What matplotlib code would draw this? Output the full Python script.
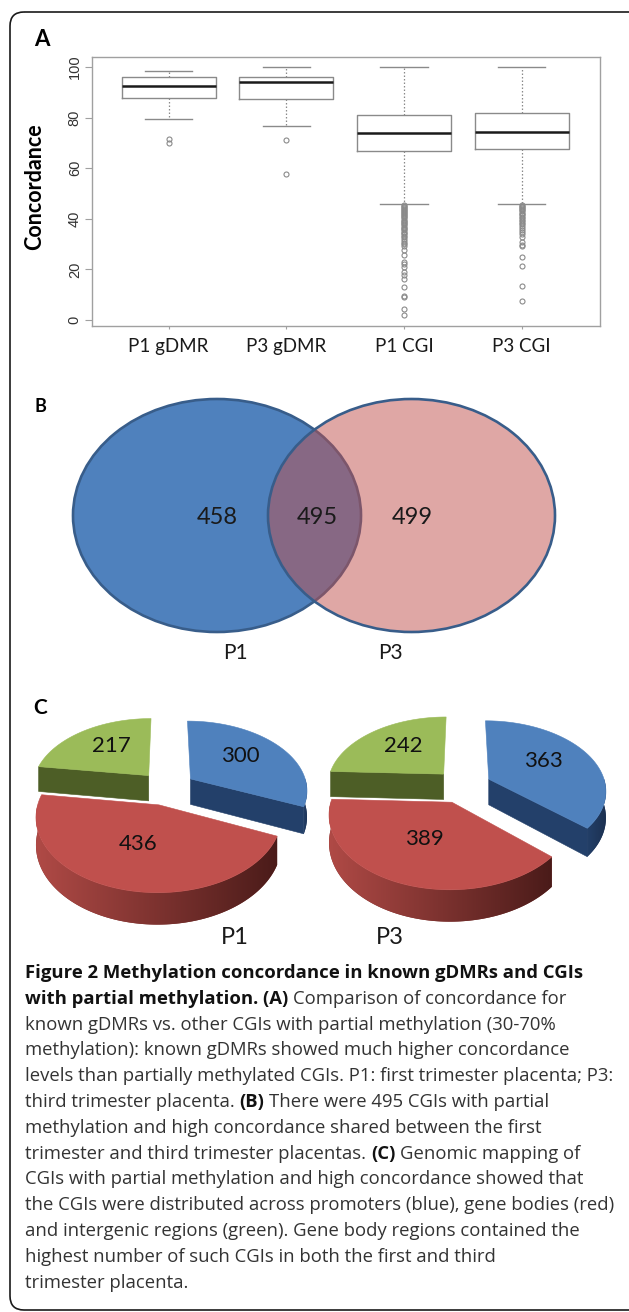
import numpy as np
import matplotlib
matplotlib.use('Agg')
import matplotlib.pyplot as plt
from matplotlib.patches import Ellipse, Polygon, FancyBboxPatch
from matplotlib.colors import to_rgb

# ---------------- data ----------------
# A: concordance boxplots
box_labels = ['P1 gDMR', 'P3 gDMR', 'P1 CGI', 'P3 CGI']
box_whislo = [79.3, 76.5, 45.7, 45.9]
box_q1 = [87.9, 87.2, 66.7, 67.7]
box_med = [92.7, 94.1, 73.9, 74.3]
box_q3 = [96.0, 96.0, 80.9, 82.0]
box_whishi = [98.5, 100.0, 100.0, 100.0]
fliers_p1_gdmr = [71.5, 69.8]
fliers_p3_gdmr = [71.3, 57.8]
fliers_p1_cgi = [45.5, 45.2, 44.8, 44.4, 44.0, 43.6, 43.2, 42.8, 42.4, 42.0, 41.5, 41.1,
                 40.6, 40.2, 39.7, 39.3, 38.8, 38.3, 37.9, 37.4, 36.9, 36.4, 35.9, 35.4,
                 34.9, 34.3, 33.8, 33.2, 32.6, 32.0, 31.3, 30.6, 29.9, 29.1, 27.7, 25.7,
                 23.0, 22.1, 21.0, 19.1, 17.8, 16.2, 12.9, 9.6, 9.2, 4.2, 2.0]
fliers_p3_cgi = [45.6, 45.2, 44.8, 44.3, 43.9, 43.4, 42.9, 42.4, 41.9, 41.4, 40.8, 40.3,
                 39.7, 39.1, 38.5, 37.9, 37.2, 36.5, 35.7, 34.9, 33.8, 32.9, 30.9, 29.6,
                 29.1, 25.0, 21.5, 13.6, 7.6]
box_fliers = [fliers_p1_gdmr, fliers_p3_gdmr, fliers_p1_cgi, fliers_p3_cgi]

# B: venn counts
venn_sets = ['P1', 'P3']
venn_counts = [458, 495, 499]   # P1 only, shared, P3 only

# C: genomic mapping (promoter, gene body, intergenic)
pie_groups = ['P1', 'P3']
pie_p1 = [300, 436, 217]
pie_p3 = [363, 389, 242]

caption = [
    [("Figure 2 Methylation concordance in known gDMRs and CGIs", True)],
    [("with partial methylation. (A)", True), ("Comparison of concordance for", False)],
    [("known gDMRs vs. other CGIs with partial methylation (30-70%", False)],
    [("methylation): known gDMRs showed much higher concordance", False)],
    [("levels than partially methylated CGIs. P1: first trimester placenta; P3:", False)],
    [("third trimester placenta.", False), ("(B)", True), ("There were 495 CGIs with partial", False)],
    [("methylation and high concordance shared between the first", False)],
    [("trimester and third trimester placentas.", False), ("(C)", True), ("Genomic mapping of", False)],
    [("CGIs with partial methylation and high concordance showed that", False)],
    [("the CGIs were distributed across promoters (blue), gene bodies (red)", False)],
    [("and intergenic regions (green). Gene body regions contained the", False)],
    [("highest number of such CGIs in both the first and third", False)],
    [("trimester placenta.", False)],
]

LAB_FONT = ['Lato', 'DejaVu Sans']
CAP_FONT = ['Open Sans', 'DejaVu Sans']

W, H = 629, 1312
fig = plt.figure(figsize=(W / 100, H / 100), dpi=100)
ov = fig.add_axes([0, 0, 1, 1])
ov.set_xlim(0, W)
ov.set_ylim(H, 0)
ov.axis('off')

# outer frame
ov.add_patch(FancyBboxPatch((10, 12), 660, 1298, boxstyle='round,pad=0,rounding_size=14',
                            fc='none', ec='#1a1a1a', lw=1.2))

# ---------------- A: boxplot ----------------
ax = fig.add_axes([91.5 / W, 1 - 326 / H, 508.5 / W, 269.3 / H])
stats = []
for i in range(4):
    stats.append(dict(med=box_med[i], q1=box_q1[i], q3=box_q3[i], whislo=box_whislo[i],
                      whishi=box_whishi[i], fliers=np.array(box_fliers[i]), label=box_labels[i]))
gray = '#8a8a8a'
ax.bxp(stats, positions=[1, 2, 3, 4], widths=0.8, capwidths=0.4,
       boxprops=dict(color=gray, lw=1.0),
       whiskerprops=dict(color=gray, lw=0.9, linestyle=(0, (1.2, 1.6))),
       capprops=dict(color=gray, lw=1.0),
       medianprops=dict(color='#1a1a1a', lw=1.8),
       flierprops=dict(marker='o', markerfacecolor='none', markeredgecolor='#8a8a8a',
                       markersize=3.6, markeredgewidth=0.8))
ax.set_xlim(0.345, 4.665)
ax.set_ylim(-2.4, 104.1)
for sp in ax.spines.values():
    sp.set_color('#a0a0a0')
    sp.set_linewidth(1.0)
ax.set_yticks([0, 20, 40, 60, 80, 100])
ax.set_yticklabels(['0', '20', '40', '60', '80', '100'], rotation=90, va='center',
                   fontsize=10.5, family='Liberation Sans', color='#333333')
ax.tick_params(axis='y', length=5, pad=2, color='#a0a0a0')
ax.tick_params(axis='x', length=2.5, pad=6, color='#a0a0a0')
ax.set_xticklabels(box_labels, fontsize=13.5, family=LAB_FONT, color='#1a1a1a')
ax.set_ylabel('Concordance', fontsize=15.5, fontweight='bold', family=LAB_FONT)
ax.yaxis.set_label_coords(-0.0914, 0.516)

ov.text(42, 40, 'A', fontsize=16, fontweight='bold', family=LAB_FONT, ha='center', va='center')

# ---------------- B: venn ----------------
ov.text(40, 407, 'B', fontsize=13, fontweight='bold', family=LAB_FONT, ha='center', va='center')
edge = '#385D8A'
ov.add_patch(Ellipse((217, 515.5), 288, 233, fc='#4F81BD', ec=edge, lw=1.9, zorder=2))
ov.add_patch(Ellipse((411.5, 515.5), 287, 233, fc='#C0504D', alpha=0.5, ec='none', zorder=3))
ov.add_patch(Ellipse((411.5, 515.5), 287, 233, fc='none', ec=edge, lw=1.9, zorder=4))
for (x, y), n in zip([(217, 517), (317, 517), (412, 517)], venn_counts):
    ov.text(x, y, str(n), fontsize=17, family=LAB_FONT, color='#1a1a1a',
            ha='center', va='center', zorder=5)
for (x, y), s in zip([(235, 653), (390, 653)], venn_sets):
    ov.text(x, y, s, fontsize=15, family=LAB_FONT, color='#1a1a1a', ha='center', va='center')

# ---------------- C: 3D pies ----------------
ov.text(40, 708, 'C', fontsize=15, fontweight='bold', family=LAB_FONT, ha='center', va='center')
RX, RY, K, D, E = 117, 69, 0.15, 26, 0.245
tops = ['#4F81BD', '#C0504D', '#9BBB59']
wall_l = ['#23406A', '#B04A46', '#4D5E26']
wall_r = ['#1C3050', '#4A1B19', '#44531F']
zc = [10]


def nextz():
    zc[0] += 1
    return zc[0]


def pie_xy(cx, cy, u, v, h=0.0):
    s = 1.0 / (1.0 - K * v)
    return cx + RX * u * s, cy + (RY * v + D * h) * s


def mix(c1, c2, f):
    a, b = np.array(to_rgb(c1)), np.array(to_rgb(c2))
    return tuple(a + (b - a) * f)


def gradient_wall(pts, c1, c2):
    poly = Polygon(pts, closed=True, fc=mix(c1, c2, 0.5), ec='none', zorder=nextz())
    ov.add_patch(poly)
    xs = [p[0] for p in pts]
    ys = [p[1] for p in pts]
    img = np.array([[mix(c1, c2, f) for f in np.linspace(0, 1, 256)]])
    im = ov.imshow(img, extent=[min(xs) - 1, max(xs) + 1, max(ys) + 1, min(ys) - 1],
                   aspect='auto', interpolation='bilinear', zorder=nextz())
    im.set_clip_path(poly)


def draw_pie3d(cx, cy, values):
    edges = np.concatenate([[0], np.cumsum(values)]) / sum(values) * 360
    order = []
    for i in range(len(values)):
        a, b = edges[i], edges[i + 1]
        m = np.radians((a + b) / 2)
        order.append((-E * np.cos(m), E * np.sin(m), i, a, b))
    order.sort()
    for dv, du, i, a, b in order:
        # radial faces seen from the front
        for ang, vis in ((a, np.sin(np.radians(a)) < -1e-6), (b, np.sin(np.radians(b)) > 1e-6)):
            if vis:
                t = np.radians(ang)
                pu, pv = du + np.sin(t), dv - np.cos(t)
                quad = [pie_xy(cx, cy, du, dv), pie_xy(cx, cy, pu, pv),
                        pie_xy(cx, cy, pu, pv, 1), pie_xy(cx, cy, du, dv, 1)]
                ov.add_patch(Polygon(quad, closed=True, fc=wall_l[i], ec=wall_l[i], lw=0.4,
                                     zorder=nextz()))
        # outer wall, front half only
        lo, hi = max(a, 90), min(b, 270)
        if hi > lo:
            ws = np.radians(np.linspace(hi, lo, 120))
            top = [pie_xy(cx, cy, du + np.sin(t), dv - np.cos(t)) for t in ws]
            bot = [pie_xy(cx, cy, du + np.sin(t), dv - np.cos(t), 1) for t in ws[::-1]]
            gradient_wall(top + bot, wall_l[i], wall_r[i])
        th = np.radians(np.linspace(a, b, 100))
        pts = [pie_xy(cx, cy, du, dv)] + [pie_xy(cx, cy, du + np.sin(t), dv - np.cos(t)) for t in th]
        ov.add_patch(Polygon(pts, closed=True, fc=tops[i], ec=tops[i], lw=0.4, zorder=nextz()))
    for dv, du, i, a, b in order:
        m = np.radians((a + b) / 2)
        lx, ly = pie_xy(cx, cy, du + 0.55 * np.sin(m), dv - 0.55 * np.cos(m))
        ov.text(lx, ly - 4, str(values[i]), fontsize=16, family=LAB_FONT, color='#111111',
                ha='center', va='center', zorder=200)


draw_pie3d(167, 788, pie_p1)
draw_pie3d(463, 786, pie_p3)
ov.set_xlim(0, W)
ov.set_ylim(H, 0)
for (x, y), s in zip([(235, 938), (390, 938)], pie_groups):
    ov.text(x, y, s, fontsize=17, family=LAB_FONT, color='#1a1a1a', ha='center', va='center')

# ---------------- caption ----------------
fig.canvas.draw()
rend = fig.canvas.get_renderer()


def text_w(s, bold, fs):
    t = ov.text(0, 0, s, fontsize=fs, fontweight='bold' if bold else 'normal', family=CAP_FONT)
    w = t.get_window_extent(renderer=rend).width
    t.remove()
    return w


ref_line = caption[9][0][0]
cap_fs = 10 * 587 / text_w(ref_line, False, 10)
space_w = text_w('a a', False, cap_fs) - text_w('aa', False, cap_fs)
for k, line in enumerate(caption):
    x = 25
    y = 973 + k * 25.8
    for seg, bold in line:
        ov.text(x, y, seg, fontsize=cap_fs, fontweight='bold' if bold else 'normal',
                family=CAP_FONT, color='#111111' if bold else '#333333', ha='left', va='center')
        x += text_w(seg, bold, cap_fs) + space_w

fig.savefig('out.png', dpi=100)
